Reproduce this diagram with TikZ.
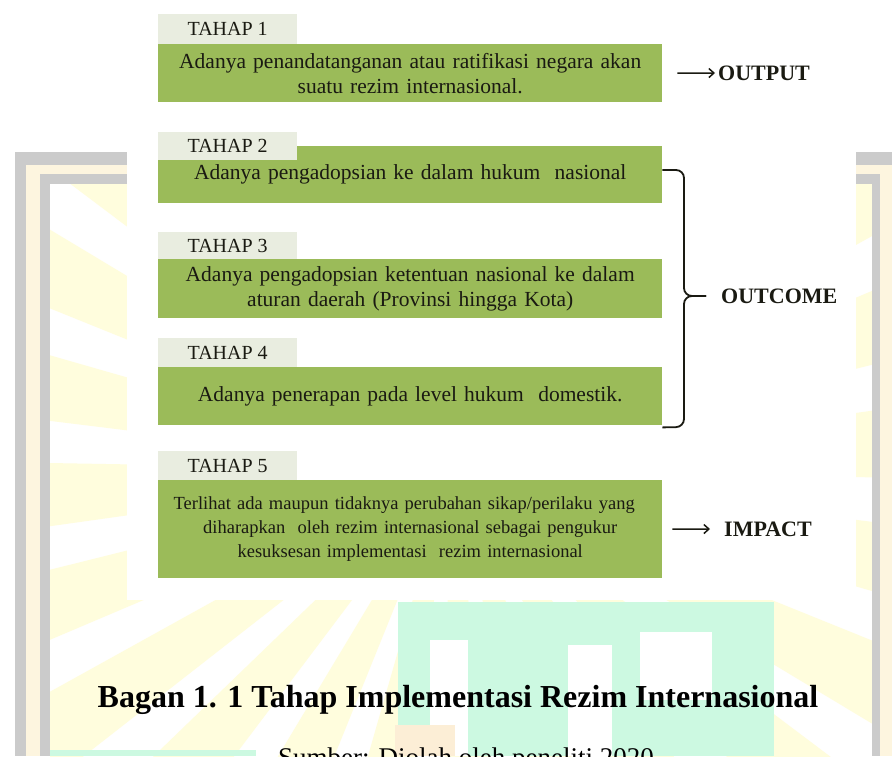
\documentclass[tikz,border=0pt]{standalone}
\usepackage{fontspec}
\setmainfont{Liberation Serif}
\usetikzlibrary{arrows.meta,calc}
\definecolor{boxg}{HTML}{9BBB59}
\definecolor{tabc}{HTML}{E9EDE0}
\definecolor{wmgray}{HTML}{CBCBCB}
\definecolor{wmcream}{HTML}{FDF5DF}
\definecolor{wmyellow}{HTML}{FFFDDD}
\definecolor{wmmint}{HTML}{CCF9E1}
\definecolor{wmpeach}{HTML}{FCEED6}
\definecolor{txtc}{HTML}{1A1A12}
\begin{document}
\begin{tikzpicture}[x=1pt,y=-1pt,
  gbox/.style={fill=boxg, anchor=north west, inner sep=0pt, text width=504pt, align=center, text=txtc, font=\fontsize{21.5}{25}\selectfont},
  gboxs/.style={gbox, font=\fontsize{18.5}{24}\selectfont},
  tabbox/.style={fill=tabc, anchor=north west, inner sep=0pt, minimum width=139pt, text=txtc, font=\fontsize{20}{24}\selectfont},
  lbl/.style={anchor=west, inner sep=0pt, text=txtc, font=\bfseries\fontsize{22}{26}\selectfont},
  arr/.style={draw=txtc, line width=1.5pt, -{Straight Barb[length=5pt,width=9pt]}},
  brace/.style={draw=txtc, line width=1.8pt, rounded corners=8pt}
]
\useasboundingbox (0,0) rectangle (892,756);
\fill[white] (0,0) rectangle (892,756);
% --- watermark ---
\begin{scope}
  \clip (50,184) rectangle (872,756);
  \foreach \a in {149,164,...,494} {
    \fill[wmyellow] (450,470) -- ($(450,470)+({900*cos(\a)},{-900*sin(\a)})$) -- ($(450,470)+({900*cos(\a+9)},{-900*sin(\a+9)})$) -- cycle;
  }
  \fill[wmmint] (398,602) rectangle (774,756);
  \fill[white] (430,640) rectangle (468,756);
  \fill[white] (568,645) rectangle (612,756);
  \fill[white] (640,632) rectangle (712,700);
  \fill[wmpeach] (395,725) rectangle (455,756);
  \fill[wmmint] (50,750) rectangle (256,756);
\end{scope}
% frame
\fill[wmgray] (15,152) rectangle (26,756);
\fill[wmgray] (15,152) rectangle (892,165);
\fill[wmcream] (26,165) rectangle (892,174);
\fill[wmcream] (26,165) rectangle (40,756);
\fill[wmcream] (880,174) rectangle (892,756);
\fill[wmgray] (40,174) rectangle (880,184);
\fill[wmgray] (40,174) rectangle (50,756);
\fill[wmgray] (872,174) rectangle (880,756);
% diagram background
\fill[white] (127,0) rectangle (856,600);
% --- boxes ---
\node[gbox, minimum height=58pt] (b1) at (158,44) {Adanya penandatanganan atau ratifikasi negara akan\\suatu rezim internasional.};
\node[tabbox, minimum height=30pt] (t1) at (158,14) {TAHAP 1};
\node[gbox, minimum height=57pt] (b2) at (158,146) {Adanya pengadopsian ke dalam hukum\ \ nasional};
\node[tabbox, minimum height=28pt] (t2) at (158,132) {TAHAP 2};
\node[gbox, minimum height=59pt] (b3) at (158,259) {Adanya pengadopsian ketentuan nasional ke dalam\\aturan daerah (Provinsi hingga Kota)};
\node[tabbox, minimum height=27pt] (t3) at (158,232) {TAHAP 3};
\node[gbox, minimum height=58pt] (b4) at (158,367) {Adanya penerapan pada level hukum\ \ domestik.};
\node[tabbox, minimum height=29pt] (t4) at (158,338) {TAHAP 4};
\node[gboxs, minimum height=98pt] (b5) at (158,480) {\makebox[473pt][s]{Terlihat ada maupun tidaknya perubahan sikap/perilaku yang}\\diharapkan\ \ oleh rezim internasional sebagai pengukur\\kesuksesan implementasi\ \ rezim internasional};
\node[tabbox, minimum height=29pt] (t5) at (158,451) {TAHAP 5};
% --- labels ---
\node[lbl] (out) at (718,73) {OUTPUT};
\node[lbl] (oc) at (721,296) {OUTCOME};
\node[lbl] (imp) at (724,529) {IMPACT};
\draw[arr] ([xshift=15pt]b1.east) -- ([xshift=-3pt]out.west);
\draw[arr] ([xshift=10pt]b5.east) -- ([xshift=-14pt]imp.west);
\draw[brace] ([yshift=-24pt]b2.north east) -- (684,170) -- (684,296) -- ([xshift=-15pt]oc.west);
\draw[brace] ([yshift=-2pt]b4.south east) -- (684,427) -- (684,296) -- ([xshift=-15pt]oc.west);
% --- caption ---
\node[anchor=base, inner sep=0pt, font=\bfseries\fontsize{32}{38}\selectfont] (cap) at (458,707) {Bagan 1. 1 Tahap Implementasi Rezim Internasional};
\node[anchor=base, inner sep=0pt, font=\fontsize{27}{32}\selectfont] (src) at (466,766) {Sumber: Diolah oleh peneliti 2020};
\end{tikzpicture}
\end{document}
